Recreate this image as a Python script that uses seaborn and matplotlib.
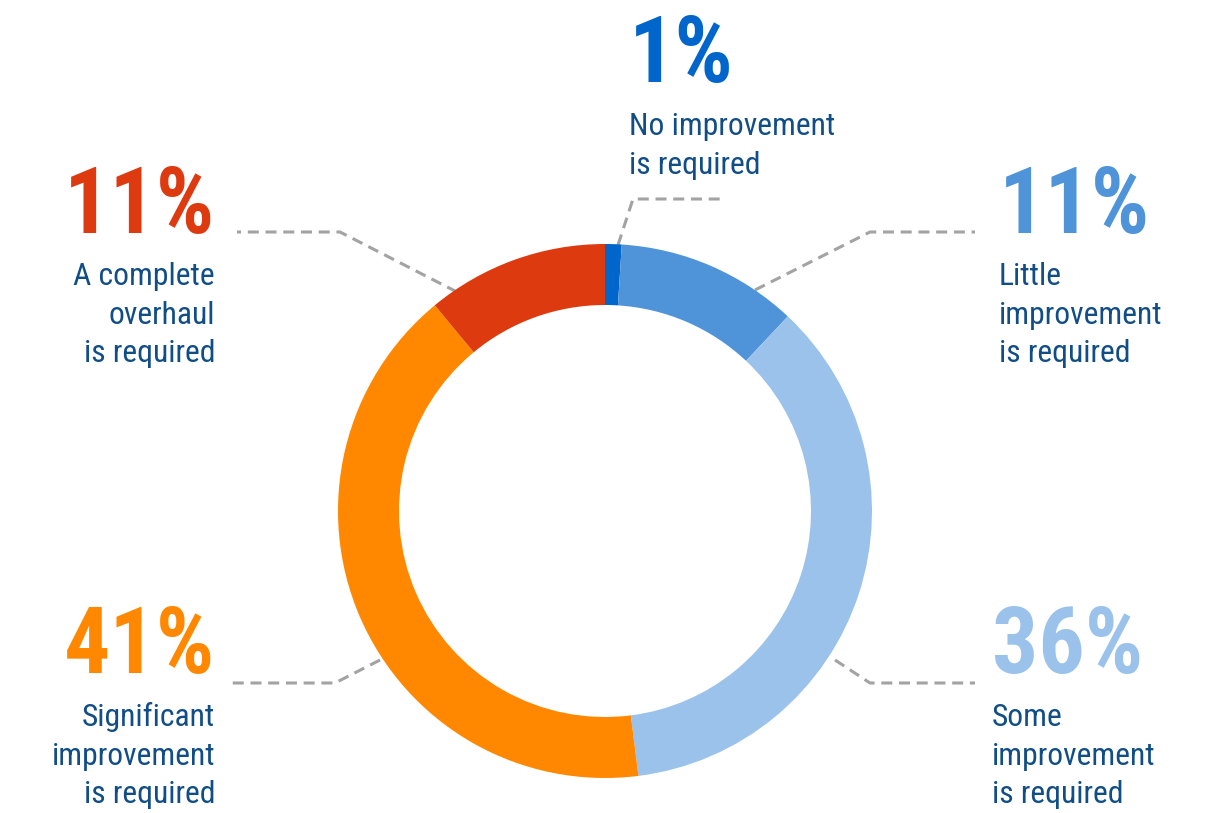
import matplotlib
matplotlib.use("Agg")
import matplotlib.pyplot as plt
from matplotlib import font_manager
import seaborn as sns

# Survey answers, clockwise from 12 o'clock
categories = [
    "No improvement\nis required",
    "Little\nimprovement\nis required",
    "Some\nimprovement\nis required",
    "Significant\nimprovement\nis required",
    "A complete\noverhaul\nis required",
]
shares = [1, 11, 36, 41, 11]
slice_colors = ["#0066CC", "#4F94D9", "#9AC2EA", "#FF8800", "#DD3A10"]

sns.set_theme(style="white")
available = {f.name for f in font_manager.fontManager.ttflist}
family = "Roboto Condensed" if "Roboto Condensed" in available else "Roboto"
plt.rcParams["font.family"] = [family, "DejaVu Sans"]

W, H = 1215, 813
fig = plt.figure(figsize=(W / 100, H / 100), dpi=100)
ax = fig.add_axes([0, 0, 1, 1])

# ring (pixel-like data space, y grows downward, so angles run clockwise on screen)
cx, cy, r_out, ring = 605, 511, 267, 61
ax.pie(shares, colors=slice_colors, startangle=-90, counterclock=True,
       center=(cx, cy), radius=r_out,
       wedgeprops=dict(width=ring, linewidth=0), frame=True)
ax.set_xlim(0, W)
ax.set_ylim(H, 0)
ax.set_aspect("auto")
ax.axis("off")

# label layout: (anchor x, alignment, big-number baseline, first text baseline, leader path)
layout = [
    (629, "left", 82, 135, [(618, 245), (633, 199), (724, 199)]),
    (999, "left", 233, 285, [(755, 290), (870, 232), (975, 232)]),
    (992, "left", 673, 726, [(835, 660), (870, 683), (975, 683)]),
    (215, "right", 673, 726, [(380, 660), (335, 683), (232, 683)]),
    (215, "right", 233, 285, [(457, 292), (340, 232), (237, 232)]),
]
text_color = "#124E86"
line_pitch = 38.5

for share, label, col, (x, ha, num_y, txt_y, path) in zip(
        shares, categories, slice_colors, layout):
    xs, ys = zip(*path)
    ax.plot(xs, ys, color="#A3A3A3", lw=2.2, ls=(0, (3.6, 2.2)), zorder=0,
            solid_capstyle="butt", dash_capstyle="butt")
    ax.text(x, num_y, f"{share}%", ha=ha, va="baseline", fontsize=66,
            fontweight="bold", color=col)
    for i, line in enumerate(label.split("\n")):
        ax.text(x, txt_y + i * line_pitch, line, ha=ha, va="baseline",
                fontsize=22.8, fontweight="normal", color=text_color)

fig.savefig("out.png", dpi=100)
